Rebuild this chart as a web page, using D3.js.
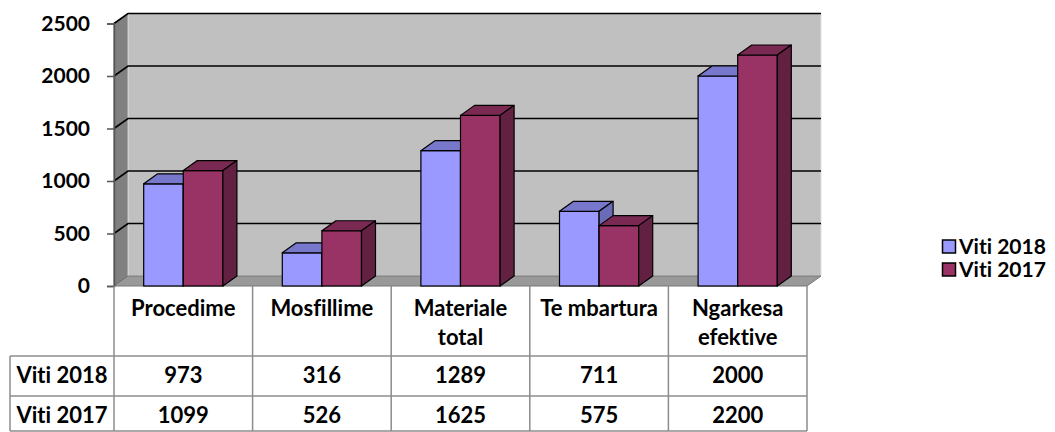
<!DOCTYPE html>
<html>
<head>
<meta charset="utf-8">
<script src="https://cdn.jsdelivr.net/npm/d3@7"></script>
<style>
  body { margin: 0; background: white; }
  svg { font-family: Lato, "Open Sans", sans-serif; font-weight: bold; }
  text { font-variant-ligatures: none; font-feature-settings: "liga" 0, "clig" 0; }
</style>
</head>
<body>
<svg id="chart" width="1055" height="432"></svg>
<script>
// data
var categories = ["Procedime", "Mosfillime", "Materiale total", "Te mbartura", "Ngarkesa efektive"];
var catLines = [["Procedime"], ["Mosfillime"], ["Materiale", "total"], ["Te mbartura"], ["Ngarkesa", "efektive"]];
var series = ["Viti 2018", "Viti 2017"];
var values2018 = [973, 316, 1289, 711, 2000];
var values2017 = [1099, 526, 1625, 575, 2200];
var yTicks = [0, 500, 1000, 1500, 2000, 2500];

var values = [values2018, values2017];
var front = ["#9999FF", "#993366"];
var top_c = ["#7777CC", "#7A2952"];
var side_c = ["#6B6BB8", "#632142"];

var svg = d3.select("#chart");

// plot geometry
var left = 114, right = 807, base = 286, topY = 23.5;
var dx = 14, dy = 10;

var y = d3.scaleLinear().domain([0, 2500]).range([base, topY]);
var x0 = d3.scaleBand().domain(categories).range([left, right]);
var x1 = d3.scaleBand().domain(series).range([0, x0.bandwidth()])
  .paddingInner(0).paddingOuter(0.75);

function pts(a) { return a.map(p => p.join(",")).join(" "); }

// left wall
svg.append("polygon")
  .attr("points", pts([[left, y(2500)], [left + dx, y(2500) - dy], [left + dx, base - dy], [left, base]]))
  .attr("fill", "#808080")
  .attr("stroke", "#505050")
  .attr("stroke-width", 1);

// back wall
svg.append("polygon")
  .attr("points", pts([[left + dx, y(2500) - dy], [right + dx, y(2500) - dy], [right + dx, base - dy], [left + dx, base - dy]]))
  .attr("fill", "#C0C0C0")
  .attr("stroke", "#E0E0E0")
  .attr("stroke-width", 1);

// floor
svg.append("polygon")
  .attr("points", pts([[left, base], [left + dx, base - dy], [right + dx, base - dy], [right, base]]))
  .attr("fill", "#999999")
  .attr("stroke", "#777777")
  .attr("stroke-width", 1);

// gridlines
var grid = yTicks.filter(d => d > 0);
svg.selectAll(".grid").data(grid)
  .enter()
  .append("polyline")
    .attr("class", "grid")
    .attr("points", d => pts([[left, y(d)], [left + dx, y(d) - dy], [right + dx, y(d) - dy]]))
    .attr("fill", "none")
    .attr("stroke", "black")
    .attr("stroke-width", 1.6);

// y axis
var axis = svg.append("g")
  .attr("transform", "translate(" + left + ",0)")
  .call(d3.axisLeft(y).tickValues(yTicks).tickFormat(d3.format("d")).tickSize(7).tickPadding(17));
axis.select(".domain")
  .attr("stroke", "#555555")
  .attr("stroke-width", 1.5);
axis.selectAll(".tick line")
  .attr("stroke", "#555555")
  .attr("stroke-width", 1.5);
axis.selectAll(".tick text")
  .attr("fill", "black")
  .style("font-family", "Lato, sans-serif")
  .style("font-weight", "bold")
  .style("font-size", "21px");

// bars, 3D boxes
categories.forEach(function(c, i) {
  series.forEach(function(s, j) {
    var v = values[j][i];
    var xl = x0(c) + x1(s);
    var xr = xl + x1.bandwidth();
    var yv = y(v);
    var g = svg.append("g").attr("class", "bar");
    // front
    g.append("rect")
      .attr("x", xl)
      .attr("y", yv)
      .attr("width", xr - xl)
      .attr("height", base - yv)
      .attr("fill", front[j])
      .attr("stroke", "black")
      .attr("stroke-width", 1.2);
    // top
    g.append("polygon")
      .attr("points", pts([[xl, yv], [xl + dx, yv - dy], [xr + dx, yv - dy], [xr, yv]]))
      .attr("fill", top_c[j])
      .attr("stroke", "black")
      .attr("stroke-width", 1.2)
      .attr("stroke-linejoin", "round");
    // side
    g.append("polygon")
      .attr("points", pts([[xr, yv], [xr + dx, yv - dy], [xr + dx, y(0) - dy], [xr, y(0)]]))
      .attr("fill", side_c[j])
      .attr("stroke", "black")
      .attr("stroke-width", 1.2)
      .attr("stroke-linejoin", "round");
  });
});

// data table
var tLeft = 10, hBottom = 356, r1 = 396, r2 = 431;
var table = svg.append("g")
  .attr("stroke", "#8C8C8C")
  .attr("stroke-width", 1.5)
  .attr("fill", "none");

// vertical lines in header + rows
var cols = categories.map(c => x0(c)).concat([right]);
table.selectAll(".vl").data(cols)
  .enter()
  .append("line")
    .attr("x1", d => d).attr("x2", d => d)
    .attr("y1", base).attr("y2", r2);
table.append("line").attr("x1", tLeft).attr("x2", tLeft).attr("y1", hBottom).attr("y2", r2);
[hBottom, r1, r2].forEach(function(yy) {
  table.append("line").attr("x1", tLeft).attr("x2", right).attr("y1", yy).attr("y2", yy);
});

// header labels
categories.forEach(function(c, i) {
  var t = svg.append("text")
    .attr("x", x0(c) + x0.bandwidth() / 2)
    .attr("y", 316)
    .attr("text-anchor", "middle")
    .style("font-size", "22px");
  catLines[i].forEach(function(l, k) {
    t.append("tspan")
      .attr("x", x0(c) + x0.bandwidth() / 2)
      .attr("y", 316 + k * 29)
      .text(l);
  });
});

// row labels and values
series.forEach(function(s, j) {
  var yy = j == 0 ? 383 : 423;
  svg.append("text")
    .attr("x", (tLeft + left) / 2)
    .attr("y", yy)
    .attr("text-anchor", "middle")
    .style("font-size", "22px")
    .text(s);
  svg.selectAll(".val" + j).data(values[j])
    .enter()
    .append("text")
      .attr("x", (d, i) => x0(categories[i]) + x0.bandwidth() / 2)
      .attr("y", yy)
      .attr("text-anchor", "middle")
      .style("font-size", "22px")
      .text(d => d);
});

// legend
var legend = svg.selectAll(".legend").data(series)
  .enter()
  .append("g")
    .attr("class", "legend")
    .attr("transform", (d, j) => "translate(942," + (254 + j * 23) + ")");
legend.append("rect")
  .attr("x", 0.5)
  .attr("y", -14)
  .attr("width", 13)
  .attr("height", 13)
  .attr("fill", (d, j) => front[j])
  .attr("stroke", "black")
  .attr("stroke-width", 1.5);
legend.append("text")
  .attr("x", 17)
  .attr("y", 0)
  .style("font-size", "21px")
  .text(d => d);
</script>
</body>
</html>
